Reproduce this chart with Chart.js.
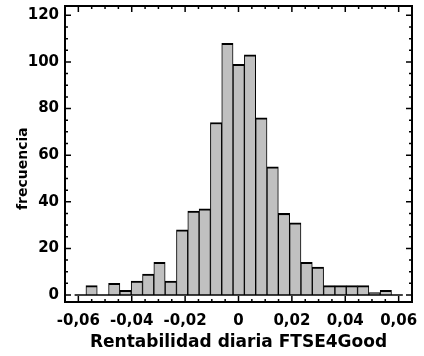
<!DOCTYPE html>
<html>
<head>
<meta charset="utf-8">
<script src="https://cdn.jsdelivr.net/npm/chart.js@4"></script>
<style>
  html, body { margin: 0; padding: 0; background: #fff; }
  #wrap { width: 424px; height: 356px; }
</style>
</head>
<body>
<div id="wrap"><canvas id="chart"></canvas></div>
<script>
// Histogram bins (29 classes), edges
var binStart = -0.0614;
var binCount = 29;
var binWidth = 0.00424;

// Counts per bin
var frecuencia = [0, 4, 0, 5, 2, 6, 9, 14, 6, 28, 36, 37, 74, 108, 99,
  103, 76, 55, 35, 31, 14, 12, 4, 4, 4, 4, 1, 2, 0];

// Tick labels
var xTicks = [-0.06, -0.04, -0.02, 0, 0.02, 0.04, 0.06];
var yTicks = [0, 20, 40, 60, 80, 100, 120];

var points = frecuencia.map(function (n, i) {
  return { x: binStart + (i + 0.5) * binWidth, y: n };
});

var fontFamily = '"DejaVu Sans", Verdana, sans-serif';

// Draws the box round the plot, the inward tick marks and the zero line
var framePlugin = {
  id: 'frame',
  afterDatasetsDraw: function (chart) {
    var ctx = chart.ctx;
    var a = chart.chartArea;
    var xs = chart.scales.x;
    var ys = chart.scales.y;
    ctx.save();
    ctx.strokeStyle = '#000';

    // zero line along the bins
    var y0 = ys.getPixelForValue(0);
    ctx.lineWidth = 1.5;
    ctx.beginPath();
    ctx.moveTo(xs.getPixelForValue(binStart), y0);
    ctx.lineTo(xs.getPixelForValue(binStart + binCount * binWidth), y0);
    ctx.stroke();

    // x ticks, bottom and top
    ctx.lineWidth = 1.5;
    for (var i = -12; i <= 12; i++) {
      var px = xs.getPixelForValue(i * 0.005);
      var len = i % 4 === 0 ? 6 : 3;
      ctx.beginPath();
      ctx.moveTo(px, a.bottom);
      ctx.lineTo(px, a.bottom - len);
      ctx.moveTo(px, a.top);
      ctx.lineTo(px, a.top + len);
      ctx.stroke();
    }
    // y ticks, left and right
    for (var j = 0; j <= 24; j++) {
      var py = ys.getPixelForValue(j * 5);
      var l = j % 4 === 0 ? 6 : 3;
      ctx.beginPath();
      ctx.moveTo(a.left, py);
      ctx.lineTo(a.left + l, py);
      ctx.moveTo(a.right, py);
      ctx.lineTo(a.right - l, py);
      ctx.stroke();
    }

    ctx.lineWidth = 2;
    ctx.strokeRect(a.left, a.top, a.right - a.left, a.bottom - a.top);
    ctx.restore();
  }
};

new Chart(document.getElementById('chart'), {
  type: 'bar',
  data: {
    datasets: [{
      data: points,
      backgroundColor: '#c0c0c0',
      borderColor: '#000',
      borderWidth: { top: 2, left: 1, right: 1, bottom: 0 },
      borderSkipped: 'start',
      barPercentage: 1,
      categoryPercentage: 1
    }]
  },
  options: {
    responsive: true,
    maintainAspectRatio: false,
    animation: false,
    layout: { padding: { left: 0, right: 12, top: 6, bottom: 0 } },
    plugins: {
      legend: { display: false },
      tooltip: { enabled: false }
    },
    scales: {
      x: {
        type: 'linear',
        offset: false,
        min: -0.065,
        max: 0.065,
        grid: { display: false, drawTicks: false, offset: false },
        border: { display: false },
        afterBuildTicks: function (s) {
          s.ticks = xTicks.map(function (v) { return { value: v }; });
        },
        afterFit: function (s) {
          s.height = 54;
          s.paddingLeft = 0;
          s.paddingRight = 0;
        },
        ticks: {
          autoSkip: false,
          maxRotation: 0,
          padding: 10,
          color: '#000',
          font: { family: fontFamily, size: 15, weight: 'bold' },
          callback: function (v) {
            return v === 0 ? '0' : v.toFixed(2).replace('.', ',');
          }
        },
        title: {
          display: true,
          text: 'Rentabilidad diaria FTSE4Good',
          color: '#000',
          font: { family: fontFamily, size: 17, weight: 'bold' },
          padding: { top: 0, bottom: 3 }
        }
      },
      y: {
        min: -3,
        max: 124,
        grid: { display: false, drawTicks: false },
        border: { display: false },
        afterBuildTicks: function (s) {
          s.ticks = yTicks.map(function (v) { return { value: v }; });
        },
        afterFit: function (s) {
          s.width = 65;
          s.paddingTop = 0;
          s.paddingBottom = 0;
        },
        ticks: {
          padding: 6,
          color: '#000',
          font: { family: fontFamily, size: 15, weight: 'bold' }
        },
        title: {
          display: true,
          text: 'frecuencia      ',
          color: '#000',
          font: { family: fontFamily, size: 14, weight: 'bold' },
          padding: { top: 15, bottom: 0 }
        }
      }
    }
  },
  plugins: [framePlugin]
});
</script>
</body>
</html>
